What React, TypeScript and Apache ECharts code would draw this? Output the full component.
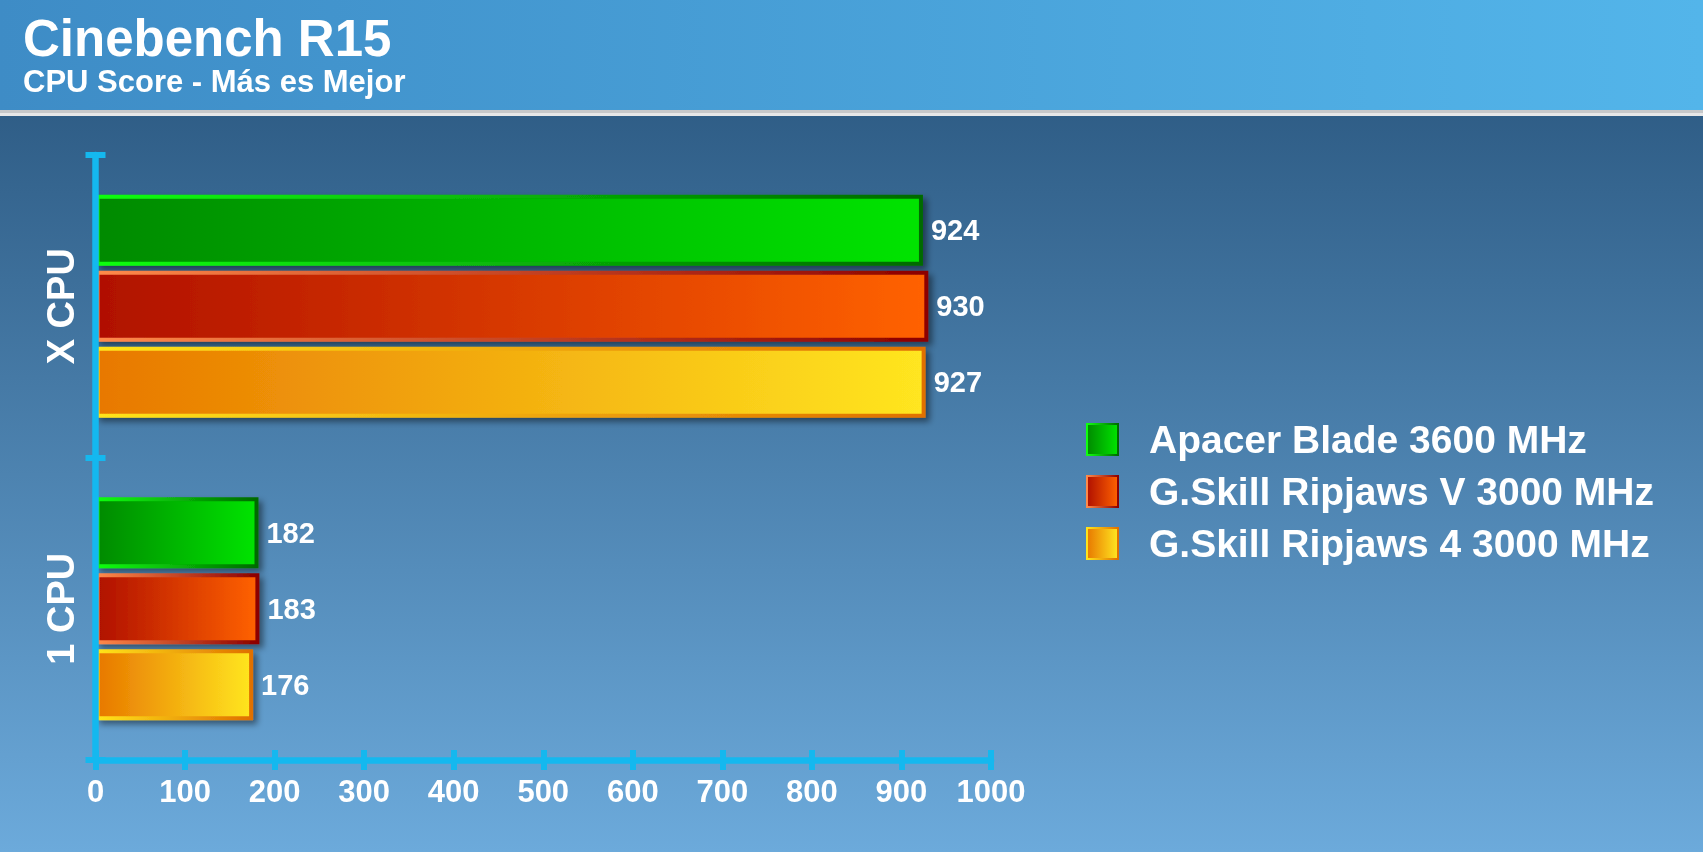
import React, { useEffect, useRef } from "react";
import * as echarts from "echarts";

const categories = ["1 CPU", "X CPU"];
const seriesNames = [
  "Apacer Blade 3600 MHz",
  "G.Skill Ripjaws V 3000 MHz",
  "G.Skill Ripjaws 4 3000 MHz",
];
const apacerValues = [182, 924];
const ripjawsVValues = [183, 930];
const ripjaws4Values = [176, 927];
const xTicks = [0, 1000, 100];

const FONT = "'Liberation Sans', Arial, sans-serif";
const AXIS_COLOR = "#14b8ef";

const palettes = [
  { fill: ["#008a00", "#00e400"], border: ["#10ff10", "#006a00"] },
  { fill: ["#b01000", "#ff6200"], border: ["#ff8a4a", "#8c0000"] },
  { fill: ["#e87800", "#ffe620"], border: ["#ffe41a", "#e07000"] },
];

function hGrad(c: string[]) {
  return new echarts.graphic.LinearGradient(0, 0, 1, 0, [
    { offset: 0, color: c[0] },
    { offset: 1, color: c[1] },
  ]);
}

export default function App() {
  const ref = useRef<HTMLDivElement>(null);
  useEffect(() => {
    if (!ref.current) return;
    const chart = echarts.init(ref.current, undefined, { renderer: "svg" });
    const allValues = [apacerValues, ripjawsVValues, ripjaws4Values];
    const series = allValues.map((vals, i) => ({
      name: seriesNames[i],
      type: "bar",
      xAxisIndex: 0,
      yAxisIndex: 0,
      data: vals,
      barWidth: 71,
      barGap: "7%",
      itemStyle: {
        color: hGrad(palettes[i].fill),
        borderColor: hGrad(palettes[i].border),
        borderWidth: 4,
        shadowColor: "rgba(0,0,0,0.45)",
        shadowBlur: 6,
        shadowOffsetX: 4,
        shadowOffsetY: 4,
      },
      label: {
        show: true,
        position: "right",
        distance: 8,
        color: "#ffffff",
        fontFamily: FONT,
        fontWeight: "bold",
        fontSize: 29,
      },
    }));
    const valueAxisBase = {
      type: "value",
      min: xTicks[0],
      max: xTicks[1],
      interval: xTicks[2],
      splitLine: { show: false },
      position: "bottom",
      z: 3,
    };
    chart.setOption({
      animation: false,
      backgroundColor: "transparent",
      graphic: [
        {
          type: "rect",
          shape: { x: 0, y: 0, width: 1703, height: 852 },
          style: {
            fill: new echarts.graphic.LinearGradient(0, 0, 0, 1, [
              { offset: 0, color: "#26527a" },
              { offset: 1, color: "#6caadb" },
            ]),
          },
          z: -10,
        },
        {
          type: "rect",
          shape: { x: 0, y: 0, width: 1703, height: 110 },
          style: {
            fill: new echarts.graphic.LinearGradient(0, 0, 1, 0, [
              { offset: 0, color: "#3e8cc6" },
              { offset: 1, color: "#53b5ea" },
            ]),
          },
          z: -9,
        },
        {
          type: "rect",
          shape: { x: 0, y: 110, width: 1703, height: 3 },
          style: { fill: "#c6c8ca" },
          z: -9,
        },
        {
          type: "rect",
          shape: { x: 0, y: 113, width: 1703, height: 3 },
          style: { fill: "#e6e7e8" },
          z: -9,
        },
        {
          type: "text",
          x: 23,
          y: 38,
          style: {
            text: "Cinebench R15",
            fill: "#ffffff",
            font: `bold 51px ${FONT}`,
            verticalAlign: "middle",
          },
        },
        {
          type: "text",
          x: 23,
          y: 81,
          style: {
            text: "CPU Score - Más es Mejor",
            fill: "#ffffff",
            font: `bold 31px ${FONT}`,
            verticalAlign: "middle",
          },
        },
      ],
      grid: { left: 95.5, top: 155, right: 712, bottom: 92, containLabel: false },
      legend: {
        orient: "vertical",
        left: 1081,
        top: 415,
        itemWidth: 31,
        itemHeight: 31,
        itemGap: 13,
        icon: "rect",
        data: seriesNames,
        selectedMode: false,
        textStyle: {
          color: "#ffffff",
          fontFamily: FONT,
          fontWeight: "bold",
          fontSize: 39,
          padding: [0, 0, 0, 26],
        },
      },
      xAxis: [
        {
          ...valueAxisBase,
          axisLine: { show: true, lineStyle: { color: AXIS_COLOR, width: 6.5 } },
          axisTick: { show: true, length: 10, lineStyle: { color: AXIS_COLOR, width: 6 } },
          axisLabel: {
            color: "#ffffff",
            fontFamily: FONT,
            fontWeight: "bold",
            fontSize: 31,
            margin: 16,
            formatter: (v: number) => String(v),
          },
        },
        {
          ...valueAxisBase,
          axisLine: { show: false },
          axisTick: { show: true, inside: true, length: 10, lineStyle: { color: AXIS_COLOR, width: 6 } },
          axisLabel: { show: false },
        },
      ],
      yAxis: [
        {
          type: "category",
          data: categories,
          position: "left",
          z: 3,
          axisLine: { show: true, lineStyle: { color: AXIS_COLOR, width: 6.5 } },
          axisTick: { show: true, length: 10, lineStyle: { color: AXIS_COLOR, width: 6 } },
          axisLabel: {
            rotate: 90,
            color: "#ffffff",
            fontFamily: FONT,
            fontWeight: "bold",
            fontSize: 38,
            margin: 16,
          },
          splitLine: { show: false },
        },
        {
          type: "category",
          data: categories,
          position: "left",
          z: 3,
          axisLine: { show: false },
          axisTick: { show: true, inside: true, length: 10, lineStyle: { color: AXIS_COLOR, width: 6 } },
          axisLabel: { show: false },
          splitLine: { show: false },
        },
      ],
      series,
    });
    return () => chart.dispose();
  }, []);
  return (
    <div
      ref={ref}
      style={{ position: "fixed", left: 0, top: 0, width: 1703, height: 852 }}
    />
  );
}
